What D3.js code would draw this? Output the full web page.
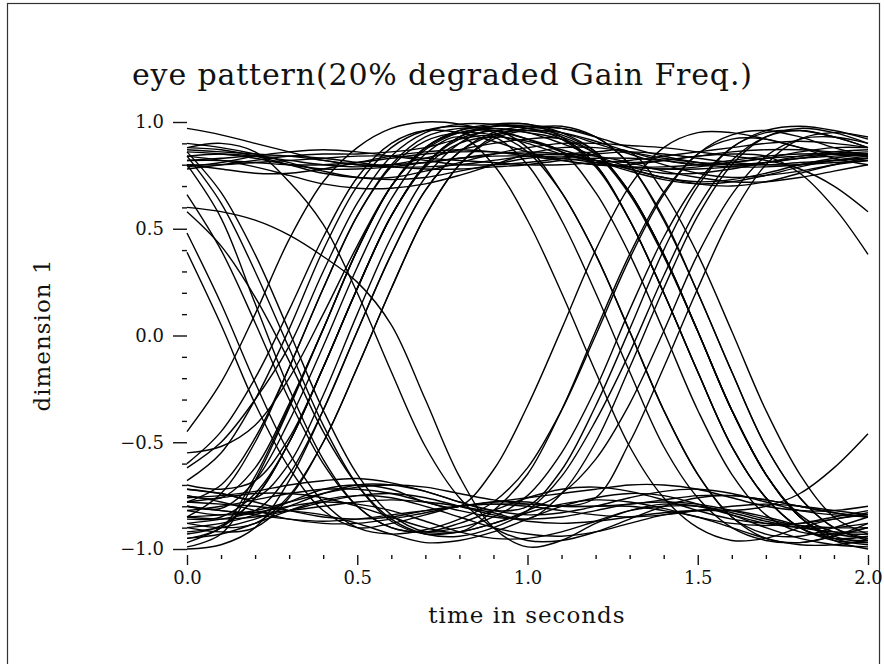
<!DOCTYPE html>
<html>
<head>
<meta charset="utf-8">
<script src="https://cdn.jsdelivr.net/npm/d3@7"></script>
<style>
  body { margin: 0; background: #fff; }
  svg { display: block; }
  text { font-family: "DejaVu Serif", serif; fill: #111; }
</style>
</head>
<body>
<svg></svg>
<script>
// sample times (s), every trace has one value per time
const times = [0, 0.1, 0.2, 0.3, 0.4, 0.5, 0.6, 0.7, 0.8, 0.9, 1.0,
               1.1, 1.2, 1.3, 1.4, 1.5, 1.6, 1.7, 1.8, 1.9, 2.0]

// traces, grouped by bit sequence
const lowHighLow = [
    [-0.99,-0.93,-0.68,-0.34,0.03,0.40,0.70,0.88,0.96,0.99,0.99,0.95,0.86,0.67,0.38,0.02,-0.35,-0.65,-0.85,-0.95,-0.98],
    [-0.97,-0.90,-0.76,-0.50,-0.15,0.22,0.56,0.80,0.93,0.98,0.99,0.93,0.80,0.54,0.20,-0.17,-0.52,-0.76,-0.90,-0.96,-0.97],
    [-0.85,-0.74,-0.50,-0.15,0.22,0.56,0.80,0.93,0.97,0.97,0.95,0.92,0.85,0.67,0.38,0.02,-0.35,-0.65,-0.84,-0.92,-0.93],
    [-0.82,-0.84,-0.82,-0.65,-0.35,0.02,0.38,0.68,0.86,0.94,0.97,0.97,0.93,0.80,0.55,0.20,-0.17,-0.52,-0.76,-0.90,-0.95],
    [-0.75,-0.76,-0.62,-0.32,0.03,0.40,0.70,0.88,0.96,0.98,0.97,0.92,0.79,0.54,0.20,-0.17,-0.52,-0.76,-0.90,-0.95,-0.94],
    [-0.93,-0.89,-0.76,-0.50,-0.15,0.22,0.56,0.80,0.92,0.96,0.96,0.93,0.85,0.66,0.37,0.02,-0.35,-0.65,-0.85,-0.96,-1.00],
    [-0.68,-0.55,-0.30,0.03,0.40,0.70,0.88,0.96,0.98,0.96,0.92,0.86,0.67,0.38,0.02,-0.35,-0.65,-0.84,-0.92,-0.93,-0.90],
    [-0.90,-0.92,-0.90,-0.76,-0.50,-0.15,0.22,0.56,0.80,0.93,0.97,0.98,0.93,0.80,0.54,0.20,-0.17,-0.52,-0.76,-0.90,-0.96],
    [-0.45,-0.22,0.10,0.45,0.72,0.88,0.97,1.00,0.99,0.95,0.86,0.67,0.38,0.02,-0.35,-0.65,-0.85,-0.93,-0.94,-0.90,-0.85],
    [-0.80,-0.81,-0.68,-0.40,-0.05,0.32,0.64,0.85,0.93,0.80,0.54,0.20,-0.17,-0.52,-0.76,-0.90,-0.96,-0.95,-0.90,-0.86,-0.84],
    [-0.72,-0.74,-0.76,-0.60,-0.28,0.10,0.46,0.74,0.90,0.96,0.88,0.67,0.38,0.02,-0.35,-0.65,-0.85,-0.95,-0.97,-0.94,-0.88],
    [-0.62,-0.50,-0.30,-0.05,0.30,0.62,0.84,0.95,0.99,0.99,0.97,0.94,0.86,0.67,0.38,0.02,-0.35,-0.65,-0.85,-0.94,-0.97]
]

const lowHighHigh = [
    [-0.95,-0.90,-0.66,-0.33,0.03,0.40,0.70,0.88,0.95,0.96,0.92,0.86,0.81,0.79,0.79,0.80,0.82,0.84,0.85,0.85,0.84],
    [-0.86,-0.85,-0.74,-0.50,-0.15,0.22,0.56,0.79,0.90,0.93,0.91,0.87,0.82,0.77,0.73,0.71,0.72,0.75,0.79,0.82,0.84],
    [-0.78,-0.70,-0.48,-0.15,0.22,0.56,0.79,0.91,0.95,0.94,0.90,0.85,0.82,0.81,0.82,0.84,0.86,0.87,0.87,0.86,0.85],
    [-1.00,-0.98,-0.90,-0.68,-0.35,0.02,0.38,0.68,0.86,0.95,0.98,0.97,0.93,0.88,0.84,0.81,0.80,0.80,0.81,0.82,0.83],
    [-0.60,-0.45,-0.20,0.12,0.46,0.74,0.90,0.96,0.95,0.91,0.86,0.82,0.80,0.79,0.78,0.78,0.79,0.81,0.83,0.84,0.85],
    [-0.70,-0.72,-0.68,-0.48,-0.15,0.22,0.56,0.80,0.93,0.98,0.98,0.95,0.90,0.85,0.80,0.76,0.74,0.75,0.77,0.80,0.82],
    [-0.88,-0.90,-0.88,-0.75,-0.50,-0.15,0.22,0.56,0.80,0.92,0.96,0.95,0.91,0.86,0.82,0.80,0.81,0.83,0.86,0.88,0.88],
    [-0.55,-0.52,-0.42,-0.20,0.10,0.42,0.70,0.87,0.95,0.97,0.95,0.90,0.84,0.79,0.76,0.76,0.78,0.81,0.84,0.86,0.87]
]

const highLowHigh = [
    [0.66,0.40,0.06,-0.30,-0.60,-0.80,-0.90,-0.92,-0.90,-0.85,-0.75,-0.55,-0.25,0.12,0.46,0.72,0.88,0.96,0.98,0.96,0.92],
    [0.84,0.62,0.30,-0.06,-0.42,-0.70,-0.87,-0.93,-0.92,-0.88,-0.82,-0.74,-0.58,-0.32,0.02,0.38,0.66,0.84,0.92,0.93,0.90],
    [0.48,0.15,-0.22,-0.55,-0.78,-0.90,-0.93,-0.91,-0.86,-0.78,-0.62,-0.35,0.00,0.36,0.66,0.85,0.94,0.96,0.93,0.88,0.84],
    [0.58,0.42,0.18,-0.12,-0.45,-0.70,-0.86,-0.93,-0.94,-0.90,-0.82,-0.66,-0.40,-0.08,0.28,0.60,0.82,0.93,0.96,0.93,0.88]
]

const highLowLow = [
    [0.39,0.05,-0.32,-0.62,-0.82,-0.90,-0.88,-0.84,-0.80,-0.79,-0.80,-0.82,-0.84,-0.85,-0.84,-0.82,-0.80,-0.79,-0.80,-0.82,-0.84],
    [0.60,0.58,0.54,0.47,0.37,0.25,0.05,-0.30,-0.66,-0.90,-0.99,-0.96,-0.88,-0.82,-0.79,-0.80,-0.84,-0.88,-0.90,-0.90,-0.88],
    [0.86,0.67,0.38,0.02,-0.35,-0.65,-0.84,-0.92,-0.92,-0.88,-0.83,-0.79,-0.77,-0.78,-0.81,-0.85,-0.88,-0.89,-0.88,-0.85,-0.82],
    [0.88,0.90,0.86,0.72,0.52,0.20,-0.17,-0.52,-0.76,-0.90,-0.96,-0.96,-0.92,-0.86,-0.80,-0.76,-0.75,-0.77,-0.80,-0.83,-0.85],
    [0.80,0.55,0.15,-0.25,-0.58,-0.80,-0.90,-0.92,-0.88,-0.82,-0.76,-0.72,-0.71,-0.73,-0.77,-0.82,-0.86,-0.88,-0.88,-0.86,-0.83]
]

const lowLowHigh = [
    [-0.80,-0.82,-0.83,-0.82,-0.80,-0.78,-0.77,-0.78,-0.80,-0.83,-0.86,-0.74,-0.50,-0.15,0.22,0.56,0.80,0.93,0.97,0.95,0.90],
    [-0.90,-0.88,-0.84,-0.78,-0.72,-0.70,-0.72,-0.78,-0.80,-0.63,-0.33,0.03,0.40,0.70,0.88,0.95,0.95,0.92,0.88,0.85,0.84],
    [-0.75,-0.78,-0.82,-0.86,-0.88,-0.88,-0.86,-0.83,-0.80,-0.78,-0.78,-0.80,-0.76,-0.50,-0.15,0.22,0.56,0.80,0.92,0.95,0.93],
    [-0.92,-0.90,-0.86,-0.80,-0.74,-0.70,-0.70,-0.73,-0.78,-0.82,-0.80,-0.63,-0.33,0.03,0.40,0.70,0.88,0.95,0.96,0.93,0.88],
    [-0.85,-0.86,-0.85,-0.82,-0.78,-0.75,-0.74,-0.76,-0.80,-0.84,-0.87,-0.88,-0.87,-0.85,-0.83,-0.82,-0.82,-0.80,-0.74,-0.62,-0.46],
    [-0.78,-0.76,-0.74,-0.74,-0.76,-0.80,-0.85,-0.90,-0.92,-0.82,-0.65,-0.35,0.02,0.38,0.67,0.85,0.92,0.92,0.88,0.83,0.80]
]

const highHighLow = [
    [0.84,0.85,0.84,0.82,0.80,0.79,0.80,0.83,0.87,0.90,0.92,0.92,0.80,0.54,0.20,-0.17,-0.52,-0.76,-0.90,-0.95,-0.96],
    [0.80,0.78,0.76,0.76,0.78,0.81,0.84,0.86,0.87,0.86,0.84,0.82,0.80,0.80,0.82,0.84,0.85,0.84,0.76,0.60,0.38],
    [0.88,0.87,0.84,0.80,0.76,0.74,0.74,0.77,0.81,0.85,0.88,0.90,0.90,0.89,0.88,0.86,0.84,0.82,0.78,0.70,0.58],
    [0.78,0.80,0.82,0.84,0.85,0.85,0.86,0.88,0.92,0.93,0.80,0.54,0.20,-0.17,-0.52,-0.76,-0.90,-0.96,-0.97,-0.94,-0.90],
    [0.82,0.82,0.81,0.80,0.80,0.81,0.83,0.85,0.86,0.86,0.85,0.85,0.86,0.86,0.67,0.38,0.02,-0.35,-0.65,-0.85,-0.93]
]

const lowLowLow = [
    [-0.82,-0.80,-0.77,-0.74,-0.72,-0.72,-0.74,-0.78,-0.82,-0.85,-0.86,-0.85,-0.82,-0.79,-0.78,-0.79,-0.82,-0.86,-0.89,-0.90,-0.90],
    [-0.76,-0.75,-0.73,-0.70,-0.68,-0.67,-0.69,-0.73,-0.78,-0.82,-0.84,-0.83,-0.80,-0.76,-0.73,-0.72,-0.74,-0.78,-0.82,-0.84,-0.85],
    [-0.88,-0.86,-0.83,-0.80,-0.78,-0.79,-0.82,-0.87,-0.92,-0.95,-0.95,-0.92,-0.87,-0.82,-0.80,-0.80,-0.83,-0.87,-0.90,-0.92,-0.92],
    [-0.72,-0.74,-0.78,-0.82,-0.85,-0.86,-0.85,-0.82,-0.80,-0.79,-0.79,-0.80,-0.80,-0.79,-0.77,-0.75,-0.75,-0.77,-0.80,-0.83,-0.85],
    [-0.95,-0.93,-0.88,-0.82,-0.77,-0.75,-0.76,-0.80,-0.85,-0.90,-0.93,-0.94,-0.92,-0.88,-0.84,-0.82,-0.82,-0.85,-0.89,-0.93,-0.95],
    [-0.80,-0.82,-0.84,-0.86,-0.87,-0.86,-0.84,-0.82,-0.80,-0.78,-0.76,-0.74,-0.72,-0.70,-0.70,-0.72,-0.76,-0.80,-0.82,-0.82,-0.80],
    [-0.85,-0.84,-0.82,-0.78,-0.74,-0.71,-0.70,-0.71,-0.74,-0.77,-0.79,-0.80,-0.80,-0.80,-0.82,-0.85,-0.90,-0.95,-0.98,-0.98,-0.96],
    [-0.78,-0.79,-0.80,-0.82,-0.84,-0.88,-0.93,-0.97,-0.96,-0.92,-0.86,-0.80,-0.76,-0.74,-0.75,-0.79,-0.84,-0.90,-0.95,-0.98,-0.99]
]

const highHighHigh = [
    [0.86,0.85,0.83,0.80,0.78,0.78,0.79,0.81,0.83,0.84,0.84,0.83,0.81,0.79,0.78,0.79,0.81,0.83,0.84,0.85,0.85],
    [0.82,0.83,0.84,0.84,0.83,0.81,0.79,0.78,0.78,0.79,0.80,0.82,0.83,0.83,0.82,0.80,0.79,0.79,0.80,0.82,0.83],
    [0.90,0.88,0.85,0.81,0.77,0.74,0.73,0.74,0.77,0.80,0.83,0.84,0.82,0.78,0.74,0.72,0.73,0.76,0.80,0.83,0.85],
    [0.79,0.81,0.84,0.86,0.87,0.86,0.84,0.82,0.80,0.80,0.81,0.83,0.85,0.86,0.85,0.83,0.81,0.80,0.80,0.81,0.82],
    [0.97,0.94,0.90,0.86,0.82,0.80,0.80,0.81,0.83,0.85,0.86,0.85,0.82,0.78,0.74,0.71,0.70,0.72,0.76,0.80,0.83],
    [0.84,0.82,0.79,0.75,0.71,0.69,0.69,0.71,0.75,0.80,0.85,0.88,0.88,0.86,0.83,0.81,0.80,0.81,0.83,0.85,0.86],
    [0.80,0.80,0.81,0.82,0.83,0.84,0.84,0.83,0.82,0.81,0.80,0.80,0.81,0.82,0.84,0.86,0.88,0.90,0.91,0.90,0.88],
    [0.87,0.86,0.85,0.84,0.82,0.80,0.79,0.79,0.80,0.82,0.84,0.85,0.84,0.81,0.77,0.74,0.72,0.72,0.74,0.77,0.80]
]

const majorX = [0, 0.5, 1.0, 1.5, 2.0]
const minorX = [0.1, 0.2, 0.3, 0.4, 0.6, 0.7, 0.8, 0.9, 1.1, 1.2, 1.3, 1.4, 1.6, 1.7, 1.8, 1.9]
const majorY = [-1.0, -0.5, 0.0, 0.5, 1.0]
const minorY = [-0.9, -0.8, -0.7, -0.6, -0.4, -0.3, -0.2, -0.1, 0.1, 0.2, 0.3, 0.4, 0.6, 0.7, 0.8, 0.9]

const titleText = "eye pattern(20% degraded Gain Freq.)"
const xLabel = "time in seconds"
const yLabel = "dimension 1"

const svg = d3.select("svg")

svg
    .attr("width", 884)
    .attr("height", 664)

// page frame
svg.append("rect")
    .attr("x", 7.5)
    .attr("y", 3.5)
    .attr("width", 872)
    .attr("height", 680)
    .attr("fill", "none")
    .attr("stroke", "#333")
    .attr("stroke-width", 1.2)

const scaleX = d3.scaleLinear()
    .domain([0, 2])
    .range([187, 868])

const scaleY = d3.scaleLinear()
    .domain([-1, 1])
    .range([549, 122])

const traces = [].concat(lowHighLow, lowHighHigh, highLowHigh, highLowLow,
                         lowLowHigh, highHighLow, lowLowLow, highHighHigh)

const line = d3.line()
    .x((d, i) => scaleX(times[i]))
    .y(d => scaleY(d))
    .curve(d3.curveCatmullRom)

svg.append("g")
    .selectAll("path.trace")
    .data(traces)
    .enter()
    .append("path")
    .attr("class", "trace")
    .attr("d", line)
    .attr("fill", "none")
    .attr("stroke", "#000")
    .attr("stroke-width", 1.4)

// y axis, ticks only
const fmt = d3.format(".1f")

svg.append("g")
    .attr("transform", "translate(187,0)")
    .call(d3.axisLeft(scaleY).tickValues(majorY).tickSize(14).tickPadding(9).tickFormat(fmt))
svg.append("g")
    .attr("transform", "translate(187,0)")
    .call(d3.axisLeft(scaleY).tickValues(minorY).tickSize(5).tickFormat(""))

// x axis sits a little below the plot
svg.append("g")
    .attr("transform", "translate(0,555)")
    .call(d3.axisBottom(scaleX).tickValues(majorX).tickSize(10).tickPadding(6).tickFormat(fmt))
svg.append("g")
    .attr("transform", "translate(0,555)")
    .call(d3.axisBottom(scaleX).tickValues(minorX).tickSize(4).tickFormat(""))

svg.selectAll(".domain").remove()
svg.selectAll(".tick line").attr("stroke", "#111").attr("stroke-width", 1.4)
svg.selectAll(".tick text")
    .attr("font-family", "DejaVu Serif")
    .attr("font-size", 18)
    .attr("fill", "#111")

svg.append("text")
    .attr("x", 442)
    .attr("y", 85)
    .attr("text-anchor", "middle")
    .attr("font-size", 30)
    .attr("textLength", 620)
    .attr("lengthAdjust", "spacing")
    .text(titleText)

svg.append("text")
    .attr("x", 527)
    .attr("y", 623)
    .attr("text-anchor", "middle")
    .attr("font-size", 23)
    .attr("letter-spacing", 1)
    .text(xLabel)

svg.append("text")
    .attr("transform", "translate(50,335) rotate(-90)")
    .attr("text-anchor", "middle")
    .attr("font-size", 23)
    .attr("letter-spacing", 1)
    .text(yLabel)
</script>
</body>
</html>
